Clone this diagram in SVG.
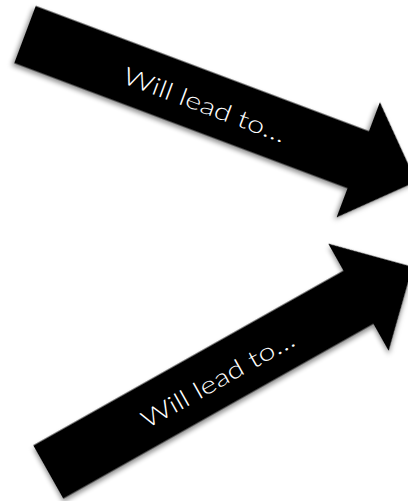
<svg xmlns="http://www.w3.org/2000/svg" width="408" height="501" viewBox="0 0 408 501">
  <style>
    .arrow { fill: #000000; filter: url(#shadow); }
    .label { fill: #ffffff; font-family: Lato, "Open Sans", "Liberation Sans", sans-serif; font-weight: 300; font-size: 24px; }
  </style>
  <defs>
    <filter id="shadow" x="-10%" y="-20%" width="120%" height="140%">
      <feDropShadow dx="-1.5" dy="3" stdDeviation="2.5" flood-color="#000000" flood-opacity="0.45"/>
    </filter>
    <path id="arrowShape" d="M0,-30.5 H356 V-61.5 L418,0 L356,61.5 V30.5 H0 Z"/>
  </defs>
  <rect width="408" height="501" fill="#ffffff"/>
  <g id="connectors"></g>
  <g id="arrow-top" transform="translate(25,34.5) rotate(20.6)">
    <use href="#arrowShape" class="arrow"/>
    <text class="label" x="193" y="11" text-anchor="middle" textLength="172" lengthAdjust="spacingAndGlyphs">Will lead to…</text>
  </g>
  <g id="arrow-bottom" transform="translate(48.3,472) rotate(-29.4)">
    <use href="#arrowShape" class="arrow"/>
    <text class="label" x="193" y="11" text-anchor="middle" textLength="172" lengthAdjust="spacingAndGlyphs">Will lead to…</text>
  </g>
</svg>
